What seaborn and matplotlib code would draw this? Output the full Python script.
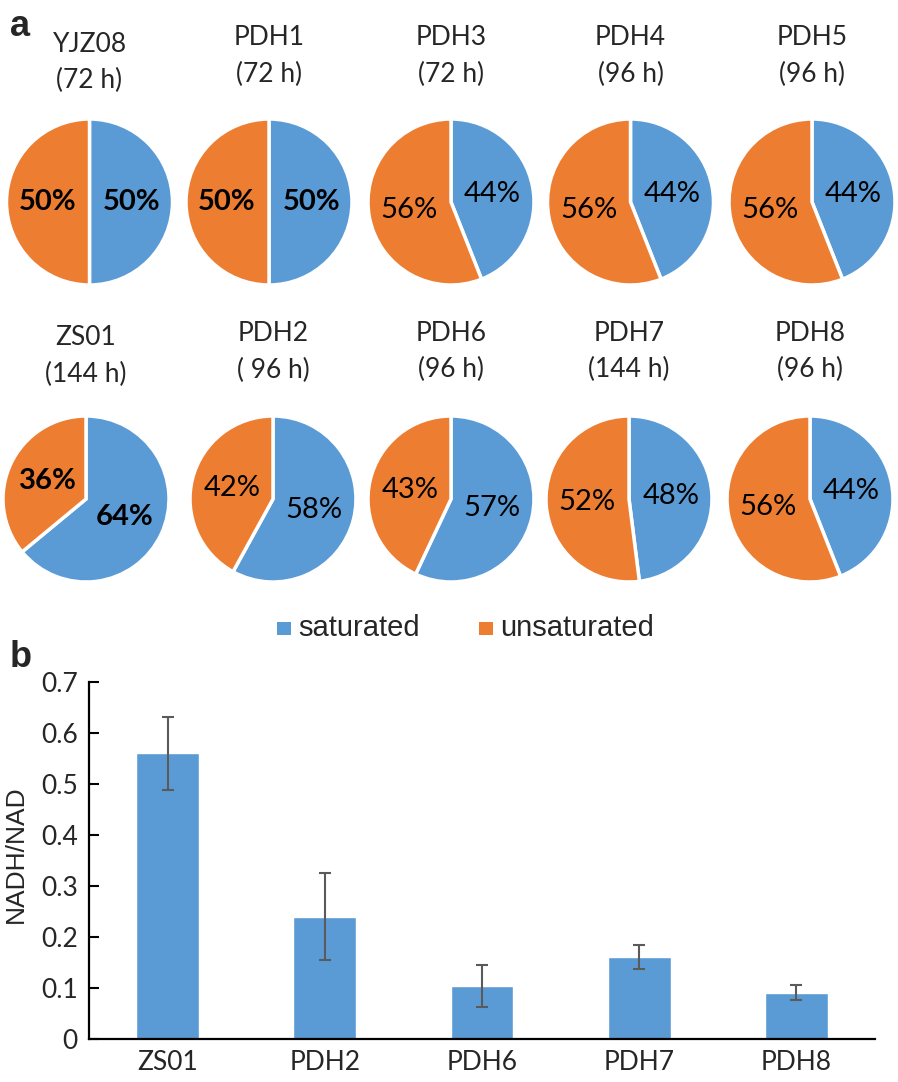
import matplotlib
matplotlib.use("Agg")
import matplotlib.pyplot as plt
from matplotlib.patches import Rectangle
import seaborn as sns

sns.set_theme(style="white")
plt.rcParams["font.family"] = ["Lato", "DejaVu Sans"]

# ---------------- data ----------------
pie_names_row1 = ["YJZ08", "PDH1", "PDH3", "PDH4", "PDH5"]
pie_times_row1 = ["(72 h)", "(72 h)", "(72 h)", "(96 h)", "(96 h)"]
sat_row1 = [50, 50, 44, 44, 44]
unsat_row1 = [50, 50, 56, 56, 56]
bold_row1 = [True, True, False, False, False]

pie_names_row2 = ["ZS01", "PDH2", "PDH6", "PDH7", "PDH8"]
pie_times_row2 = ["(144 h)", "( 96 h)", "(96 h)", "(144 h)", "(96 h)"]
sat_row2 = [64, 58, 57, 48, 44]
unsat_row2 = [36, 42, 43, 52, 56]
bold_row2 = [True, False, False, False, False]

legend_labels = ["saturated", "unsaturated"]

bar_strains = ["ZS01", "PDH2", "PDH6", "PDH7", "PDH8"]
nadh_ratio = [0.560, 0.240, 0.104, 0.161, 0.091]
nadh_err = [0.071, 0.086, 0.041, 0.023, 0.014]
y_ticks = [0, 0.1, 0.2, 0.3, 0.4, 0.5, 0.6, 0.7]
y_ticklabels = ["0", "0.1", "0.2", "0.3", "0.4", "0.5", "0.6", "0.7"]
y_label = "NADH/NAD"

# ---------------- style ----------------
BLUE = "#5B9BD5"
ORANGE = "#ED7D31"
W, H = 898, 1082
fig = plt.figure(figsize=(W / 100, H / 100), dpi=100)

R = 83.0   # pie radius in px
S = 190.0  # pie axes size in px

rows = [
    dict(names=pie_names_row1, times=pie_times_row1, sat=sat_row1, unsat=unsat_row1,
         bold=bold_row1, cx=[89.5, 269, 451, 630.5, 812], cy=202,
         tb1=[52, 45, 45, 45, 45], tb2=[88, 82, 82, 82, 82]),
    dict(names=pie_names_row2, times=pie_times_row2, sat=sat_row2, unsat=unsat_row2,
         bold=bold_row2, cx=[86, 273, 451, 629, 810], cy=499,
         tb1=[345, 341, 341, 341, 341], tb2=[382, 378, 377, 377, 377]),
]

for row in rows:
    for i, name in enumerate(row["names"]):
        cx, cy = row["cx"][i], row["cy"]
        ax = fig.add_axes([(cx - S / 2) / W, 1 - (cy + S / 2) / H, S / W, S / H])
        wedges, texts, autotexts = ax.pie(
            [row["sat"][i], row["unsat"][i]],
            colors=[BLUE, ORANGE],
            startangle=90, counterclock=False,
            autopct="%d%%", pctdistance=0.51,
            wedgeprops=dict(edgecolor="white", linewidth=2.5),
            textprops=dict(fontsize=21, color="black",
                           fontweight="bold" if row["bold"][i] else "normal"),
        )
        for t, v in zip(autotexts, [row["sat"][i], row["unsat"][i]]):
            t.set_text(f"{v}%")
        lim = (S / 2) / R
        ax.set_xlim(-lim, lim)
        ax.set_ylim(-lim, lim)
        ax.axis("off")
        fig.text(cx / W, 1 - row["tb1"][i] / H, name, ha="center", va="baseline",
                 fontsize=19)
        fig.text(cx / W, 1 - row["tb2"][i] / H, row["times"][i], ha="center",
                 va="baseline", fontsize=19)

# legend (manual)
for x0, col, lab in [(277, BLUE, legend_labels[0]), (479, ORANGE, legend_labels[1])]:
    fig.add_artist(Rectangle((x0 / W, 1 - 635 / H), 14 / W, 13 / H,
                             transform=fig.transFigure, color=col, lw=0))
    fig.text((x0 + 21) / W, 1 - 636 / H, lab, ha="left", va="baseline",
             fontsize=21, family=["Liberation Sans", "DejaVu Sans"])

# panel letters
fig.text(10 / W, 1 - 36 / H, "a", fontsize=26, fontweight="bold",
         family=["Liberation Sans", "DejaVu Sans"], va="baseline")
fig.text(10 / W, 1 - 667 / H, "b", fontsize=26, fontweight="bold",
         family=["Liberation Sans", "DejaVu Sans"], va="baseline")

# ---------------- bar chart ----------------
axl, axr, ayb, ayt = 89, 875, 1039, 682
axb = fig.add_axes([axl / W, 1 - ayb / H, (axr - axl) / W, (ayb - ayt) / H])
sns.barplot(x=bar_strains, y=nadh_ratio, color=BLUE, saturation=1, width=0.4,
            errorbar=None, ax=axb)
axb.errorbar(x=list(range(len(bar_strains))), y=nadh_ratio, yerr=nadh_err,
             fmt="none", ecolor="#5a5a5a", elinewidth=1.5, capsize=4, capthick=1.5)
axb.set_xlim(-0.5, len(bar_strains) - 0.5)
axb.set_ylim(0, 0.7)
axb.set_yticks(y_ticks)
axb.set_yticklabels(y_ticklabels)
for s in ["top", "right"]:
    axb.spines[s].set_visible(False)
for s in ["left", "bottom"]:
    axb.spines[s].set_color("black")
    axb.spines[s].set_linewidth(1.6)
axb.tick_params(axis="y", direction="in", length=7, width=1.5, color="black",
                labelsize=19, pad=8, left=True)
axb.tick_params(axis="x", length=0, labelsize=19, pad=8)
axb.set_ylabel("")
axb.set_xlabel("")
axb.grid(False)
fig.text(16 / W, 1 - 854 / H, y_label, rotation=90, ha="center", va="center",
         fontsize=19, family=["Liberation Sans", "DejaVu Sans"])

fig.savefig("out.png", dpi=100, facecolor="white")
